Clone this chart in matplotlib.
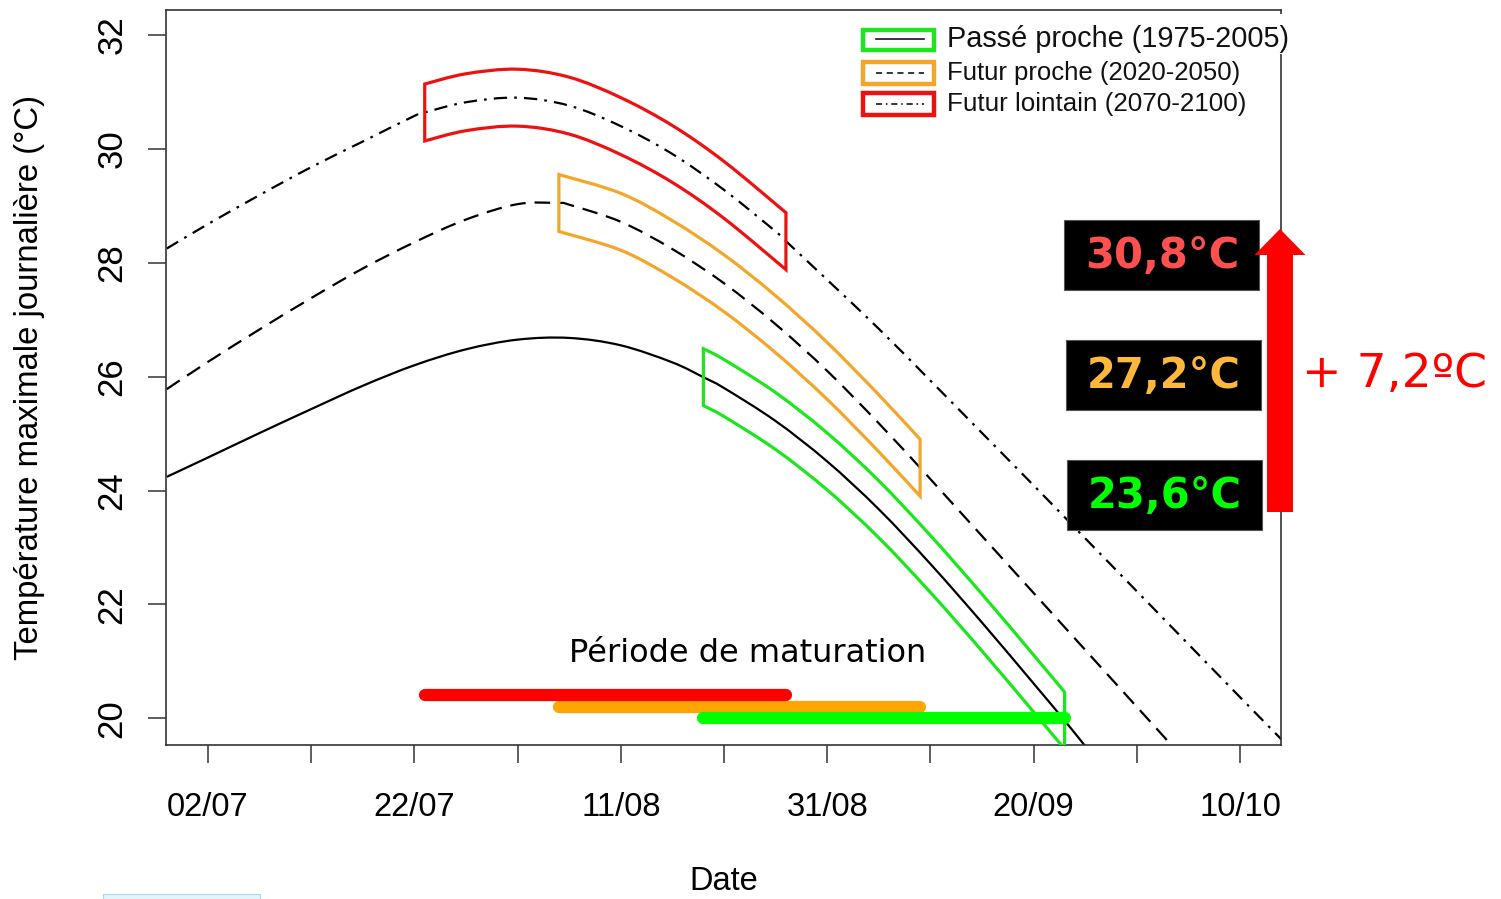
import matplotlib
matplotlib.use("Agg")
import numpy as np
import matplotlib.pyplot as plt
from matplotlib.patches import Rectangle, FancyArrow, PathPatch
from matplotlib.lines import Line2D
from matplotlib.path import Path
from matplotlib.transforms import Affine2D

W, H = 1501, 899

# ---- data: days counted from 2 July, daily maximum temperature (°C) ----
solid_days = [-4, 0, 5, 10, 15, 20, 25, 30, 35, 40, 45, 48, 50, 55, 60, 65, 70, 75,
              80, 83, 85]
solid_tmax = [24.24, 24.58, 25.01, 25.43, 25.84, 26.20, 26.48, 26.65, 26.68, 26.55,
              26.25, 25.99, 25.80, 25.22, 24.51, 23.67, 22.71, 21.68, 20.61, 19.96, 19.51]

dashed_days = [-4, 0, 5, 10, 15, 20, 25, 30, 34, 35, 40, 45, 50, 55, 60, 65, 69, 70,
               75, 80, 85, 90, 95]
dashed_tmax = [25.78, 26.26, 26.83, 27.38, 27.90, 28.36, 28.76, 29.03, 29.05, 29.02,
               28.72, 28.24, 27.64, 26.92, 26.10, 25.18, 24.40, 24.20, 23.20, 22.20,
               21.20, 20.20, 19.20]

dashdot_days = [-4, 0, 5, 10, 15, 20, 21, 25, 30, 35, 40, 45, 50, 55, 56, 60, 65, 70,
                75, 80, 85, 90, 95, 100, 104]
dashdot_tmax = [28.25, 28.68, 29.19, 29.68, 30.13, 30.58, 30.64, 30.82, 30.90, 30.76,
                30.40, 29.91, 29.28, 28.55, 28.38, 27.70, 26.84, 25.93, 25.01, 24.09,
                23.16, 22.23, 21.30, 20.37, 19.63]

# maturation envelopes (upper / lower edge)
green_days = [48, 50, 55, 60, 65, 70, 75, 80, 83]
green_top = [26.49, 26.30, 25.72, 25.01, 24.17, 23.21, 22.18, 21.11, 20.46]
green_bot = [25.49, 25.30, 24.72, 24.01, 23.17, 22.21, 21.18, 20.11, 19.46]

orange_days = [34, 40, 45, 50, 55, 60, 65, 69]
orange_top = [29.55, 29.22, 28.74, 28.14, 27.42, 26.60, 25.68, 24.90]
orange_bot = [28.55, 28.22, 27.74, 27.14, 26.42, 25.60, 24.68, 23.90]

red_days = [21, 25, 30, 35, 40, 45, 50, 56]
red_top = [31.14, 31.32, 31.40, 31.26, 30.90, 30.41, 29.78, 28.88]
red_bot = [30.14, 30.32, 30.40, 30.26, 29.90, 29.41, 28.78, 27.88]

# maturation periods (start day, end day, level drawn)
period_start = [34, 21, 48]
period_end = [69, 56, 83]
period_level = [20.2, 20.4, 20.0]

mean_labels = ["30,8°C", "27,2°C", "23,6°C"]
delta_label = "+ 7,2ºC"

xtick_days = [0, 10, 20, 30, 40, 50, 60, 70, 80, 90, 100]
xtick_labels = ["02/07", "", "22/07", "", "11/08", "", "31/08", "", "20/09", "", "10/10"]
ytick_vals = [20, 22, 24, 26, 28, 30, 32]

legend_labels = ["Passé proche (1975-2005)", "Futur proche (2020-2050)",
                 "Futur lointain (2070-2100)"]

GREEN = "#1ee61e"
ORANGE = "#f4a62a"
RED = "#ee1111"
GREEN_BAR = "#00ff00"
ORANGE_BAR = "#ffa500"
RED_BAR = "#ff0000"

arial = ["Liberation Sans", "DejaVu Sans"]

DASHED = (0, (7, 4))
DASHDOT = (0, (6, 3.2, 1.2, 3.2))


def smooth_segments(xs, ys):
    """Bezier (Catmull-Rom) segments running through the given points."""
    p = np.column_stack([xs, ys]).astype(float)
    n = len(p)
    verts, codes = [], []
    for i in range(n - 1):
        p0 = p[i - 1] if i > 0 else p[i]
        p1, p2 = p[i], p[i + 1]
        p3 = p[i + 2] if i + 2 < n else p[i + 1]
        verts += [p1 + (p2 - p0) / 6.0, p2 - (p3 - p1) / 6.0, p2]
        codes += [Path.CURVE4] * 3
    return verts, codes


def smooth_line(xs, ys):
    verts, codes = smooth_segments(xs, ys)
    return Path([(xs[0], ys[0])] + verts, [Path.MOVETO] + codes)


def envelope(days, top, bot):
    v1, c1 = smooth_segments(days, top)
    v2, c2 = smooth_segments(days[::-1], bot[::-1])
    verts = [(days[0], top[0])] + v1 + [(days[-1], bot[-1])] + v2 + [(0, 0)]
    codes = [Path.MOVETO] + c1 + [Path.LINETO] + c2 + [Path.CLOSEPOLY]
    return Path(verts, codes)


fig = plt.figure(figsize=(W / 100, H / 100), dpi=100)
ax = fig.add_axes([166 / W, 1 - 745 / H, (1281 - 166) / W, (745 - 10) / H])

# pixel (top-left origin) -> figure transform for annotations
px = Affine2D().scale(1.0 / W, -1.0 / H).translate(0, 1) + fig.transFigure

# curves
for days, vals, ls in [(solid_days, solid_tmax, "-"),
                       (dashed_days, dashed_tmax, DASHED),
                       (dashdot_days, dashdot_tmax, DASHDOT)]:
    ax.add_patch(PathPatch(smooth_line(days, vals), fill=False, edgecolor="black",
                           lw=1.6, ls=ls, zorder=2))

# envelopes
for days, top, bot, col in [(red_days, red_top, red_bot, RED),
                            (orange_days, orange_top, orange_bot, ORANGE),
                            (green_days, green_top, green_bot, GREEN)]:
    ax.add_patch(PathPatch(envelope(days, top, bot), fill=False, edgecolor=col,
                           lw=2.3, joinstyle="miter", zorder=3))

# maturation bars
for s, e, lev, col, z in zip(period_start, period_end, period_level,
                             [ORANGE_BAR, RED_BAR, GREEN_BAR], [4, 5, 6]):
    ax.plot([s, e], [lev, lev], color=col, lw=8.8, solid_capstyle="round", zorder=z)

fig.text(748, 654, "Période de maturation", transform=px, ha="center", va="center",
         fontsize=23, family="DejaVu Sans", zorder=7)

ax.set_xlim(-4.07, 103.97)
ax.set_ylim(19.53, 32.44)
ax.set_xticks(xtick_days)
ax.set_xticklabels(xtick_labels, family=arial, fontsize=23.5)
ax.set_yticks(ytick_vals)
ax.set_yticklabels([str(v) for v in ytick_vals], family=arial, fontsize=25,
                   rotation=90, va="center")
ax.tick_params(axis="both", length=13, width=1.1, color="#333333")
ax.tick_params(axis="x", pad=21)
ax.tick_params(axis="y", pad=14)
for sp in ax.spines.values():
    sp.set_color("#333333")
    sp.set_linewidth(1.2)

fig.text(30, 378, "Température maximale journalière (°C)", transform=px, rotation=90,
         ha="center", va="center", fontsize=23.7, family=arial)
fig.text(724, 881, "Date", transform=px, ha="center", va="center",
         fontsize=23.5, family=arial)

# legend
fig.add_artist(Rectangle((852, 14), 445, 40, transform=px, facecolor="white",
                         edgecolor="none", zorder=5))
leg_rows = [(30, 50, 39, GREEN, "-"), (62, 84, 73, ORANGE, (0, (4, 3))),
            (93, 115, 104, RED, (0, (4, 2.5, 1, 2.5)))]
leg_sizes = [20.8, 18.5, 18.7]
for (y0, y1, yc, col, ls), lab, fs in zip(leg_rows, legend_labels, leg_sizes):
    fig.add_artist(Rectangle((863, y0), 71, y1 - y0, transform=px, fill=False,
                             edgecolor=col, lw=3.2, zorder=6))
    fig.add_artist(Line2D([876, 924], [yc, yc], transform=px, color="black",
                          lw=1.1, ls=ls, zorder=7))
    fig.text(947, yc, lab, transform=px, ha="left", va="center", fontsize=fs,
             family=arial, color="#111111", zorder=7)

# mean temperature boxes
box_specs = [(1064, 220, "#ff5050"), (1066, 340, "#ffb83c"), (1067, 460, "#00ff00")]
for (bx, by, tc), lab in zip(box_specs, mean_labels):
    fig.add_artist(Rectangle((bx, by), 195, 70, transform=px, facecolor="black",
                             edgecolor="#555555", lw=0.8, zorder=6))
    fig.text(bx + 98, by + 36, lab, transform=px, ha="center", va="center",
             fontsize=30, fontweight="bold", family="DejaVu Sans", color=tc, zorder=7)

fig.add_artist(FancyArrow(1280, 512, 0, -283, width=26, head_width=51, head_length=26,
                          length_includes_head=True, transform=px, color="#ff0000",
                          lw=0, zorder=6))
fig.text(1394, 375, delta_label, transform=px, ha="center", va="center",
         fontsize=34, family="DejaVu Sans", color="#ff0000", zorder=7)

fig.add_artist(Rectangle((103, 894), 157, 6, transform=px, facecolor="#e3f5fc",
                         edgecolor="#a6d8f0", lw=0.8, zorder=6))

fig.savefig("out.png", dpi=100)
